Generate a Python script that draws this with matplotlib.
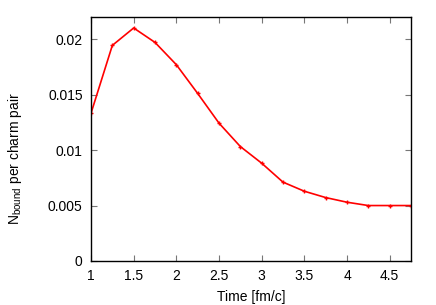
import matplotlib
matplotlib.use("Agg")
import matplotlib.pyplot as plt

# Daten
time = [1.0, 1.25, 1.5, 1.75, 2.0, 2.25, 2.5, 2.75, 3.0, 3.25, 3.5, 3.75, 4.0, 4.25, 4.5, 4.75]
n_bound = [0.01332, 0.01944, 0.02101, 0.01971, 0.01770, 0.01511, 0.01243, 0.01032,
           0.00882, 0.00711, 0.00629, 0.00572, 0.00530, 0.00500, 0.00500, 0.00500]
x_ticks = [1, 1.5, 2, 2.5, 3, 3.5, 4, 4.5]
y_ticks = [0, 0.005, 0.01, 0.015, 0.02]
y_labels = ["0", "0.005", "0.01", "0.015", "0.02"]

plt.rcParams['font.family'] = ['Liberation Sans', 'DejaVu Sans']
plt.rcParams['font.size'] = 10
plt.rcParams['mathtext.fontset'] = 'custom'
plt.rcParams['mathtext.rm'] = 'Liberation Sans'

fig = plt.figure(figsize=(4.36, 3.05), dpi=100)
ax = fig.add_axes([91 / 436, 44 / 305, 320 / 436, 244 / 305])

ax.plot(time, n_bound, color='red', lw=1.2, marker='+', markersize=3, markeredgewidth=1)

ax.set_xlim(1, 4.75)
ax.set_ylim(0, 0.022)
ax.set_xticks(x_ticks)
ax.set_xticklabels([f"{t:g}" for t in x_ticks])
ax.set_yticks(y_ticks)
ax.set_yticklabels(y_labels)
ax.tick_params(direction='in', top=True, right=True, length=4, color='#777777', pad=6)
for s in ax.spines.values():
    s.set_linewidth(1)

ax.set_xlabel("Time [fm/c]", labelpad=5)
ax.set_ylabel(r"N$_{\mathrm{bound}}$ per charm pair", labelpad=17)
ax.yaxis.label.set_y(0.42)

fig.savefig("out.png", dpi=100)
